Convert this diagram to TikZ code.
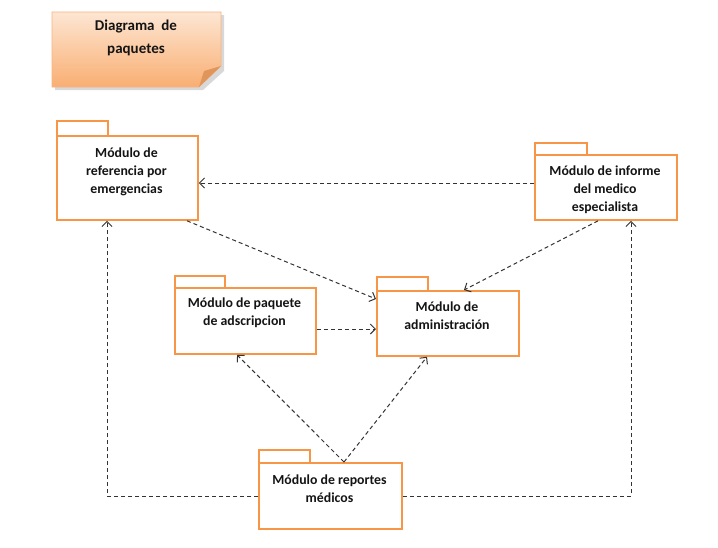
\documentclass[tikz,border=0pt]{standalone}
\usepackage{fontspec}
\setmainfont{Carlito}
\usetikzlibrary{arrows.meta,calc,shadows}
\definecolor{pkgorange}{HTML}{F79646}
\definecolor{notetop}{HTML}{FDE6D3}
\definecolor{notebot}{HTML}{F9AE72}
\definecolor{noteline}{HTML}{F5B587}
\definecolor{notefold}{HTML}{E0965A}
\definecolor{dep}{HTML}{333333}
\definecolor{txt}{HTML}{141414}
\begin{document}
\begin{tikzpicture}[x=1pt,y=-1pt,
  pkgbody/.style={draw=pkgorange,line width=1.8pt,fill=white,anchor=north west,inner sep=0pt},
  pkgtab/.style={draw=pkgorange,line width=1.8pt,fill=white,anchor=north west,inner sep=0pt},
  pkgtext/.style={align=center,text=txt,font=\bfseries\fontsize{13.8}{18}\selectfont,inner sep=0pt},
  depline/.style={draw=dep,line width=1pt,dash pattern=on 4pt off 3pt,-{Straight Barb[length=5pt,width=10pt,line width=1pt]}}
]
\useasboundingbox[fill=white] (0,0) rectangle (718,547);

% note
\fill[black!25,opacity=0.6] (55,15) -- (224,15) -- (224,71) -- (203,90) -- (55,90) -- cycle;
\shade[top color=notetop,bottom color=notebot,draw=noteline,line width=0.6pt]
  (52,12) -- (221,12) -- (221,66) -- (199,87) -- (52,87) -- cycle;
\fill[notefold] (199,87) -- (204,71) -- (221,66) -- cycle;
\node[align=center,text=txt,font=\bfseries\fontsize{15}{23}\selectfont,inner sep=0pt] (title) at (136,38) {Diagrama\ \ de\\paquetes};

% packages
\node[pkgtab,minimum width=51pt,minimum height=15pt] (reftab) at (56,120) {};
\node[pkgbody,minimum width=141pt,minimum height=84pt] (ref) at (56,135) {};
\node[pkgtext] (reft) at (126.5,172) {Módulo de\\referencia por\\emergencias};

\node[pkgtab,minimum width=52pt,minimum height=12pt] (inftab) at (534,142) {};
\node[pkgbody,minimum width=142pt,minimum height=65pt] (inf) at (534,154) {};
\node[pkgtext] (inft) at (605,190) {Módulo de informe\\del medico\\especialista};

\node[pkgtab,minimum width=50pt,minimum height=12pt] (paqtab) at (174,275) {};
\node[pkgbody,minimum width=141pt,minimum height=66pt] (paq) at (174,287) {};
\node[pkgtext] (paqt) at (244.5,313) {Módulo de paquete\\de adscripcion};

\node[pkgtab,minimum width=51pt,minimum height=14pt] (admtab) at (376,276) {};
\node[pkgbody,minimum width=142pt,minimum height=65pt] (adm) at (376,290) {};
\node[pkgtext] (admt) at (447,316) {Módulo de\\administración};

\node[pkgtab,minimum width=51pt,minimum height=13pt] (reptab) at (258,449) {};
\node[pkgbody,minimum width=143pt,minimum height=66pt] (rep) at (258,462) {};
\node[pkgtext] (rept) at (329.5,489) {Módulo de reportes\\médicos};

% dependencies
\coordinate (c1) at (107,496);
\coordinate (c2) at (631,496);
\draw[depline] (inf.west |- 0,183) -- (ref.east |- 0,183);
\draw[depline] ($(ref.south west)+(131,0)$) -- ($(adm.north west)+(0,9)$);
\draw[depline] ($(inf.south west)+(64,0)$) -- ($(adm.north west)+(88,0)$);
\draw[depline] (paq.east |- 0,329) -- (adm.west |- 0,329);
\draw[depline] ($(rep.north west)+(86,0)$) -- ($(paq.south west)+(63,0)$);
\draw[depline] ($(rep.north west)+(86,0)$) -- ($(adm.south west)+(51,0)$);
\draw[depline] (rep.west |- c1) -- (c1) -- (c1 |- ref.south);
\draw[depline] (rep.east |- c2) -- (c2) -- (c2 |- inf.south);
\end{tikzpicture}
\end{document}
